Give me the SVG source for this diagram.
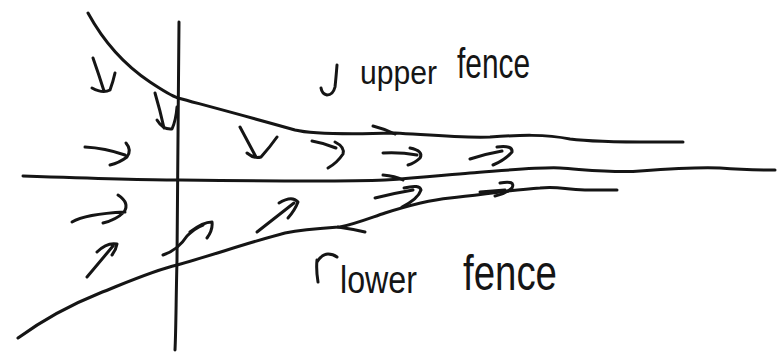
<svg xmlns="http://www.w3.org/2000/svg" width="779" height="361" viewBox="0 0 779 361">
<style>
.s{fill:none;stroke:#151515;stroke-width:3;stroke-linecap:round;stroke-linejoin:round}
.t{font-family:"Liberation Sans","DejaVu Sans",sans-serif;fill:#151515}
</style>
<rect width="779" height="361" fill="#ffffff"/>
<g id="axes">
<path class="s" d="M179,22 C178,100 178,200 177,260 C176,300 176,330 175,350"/>
<path class="s" d="M23,176 C80,178 140,180 178,180 C260,181 340,182 385,180 C420,178 445,175 470,173 C510,170 540,167 560,168 C590,170 615,173 640,171 C680,168 700,167 720,168 C745,170 760,170 775,170"/>
</g>
<g id="upper-fence">
<path class="s" d="M88,13 C100,35 120,62 150,82 C165,92 172,96 178,98 C215,108 260,120 295,130 C315,135 360,134 395,133 C430,135 460,138 490,137 C520,135 545,134 570,139 C600,143 650,142 683,142"/>
</g>
<g id="lower-fence">
<path class="s" d="M18,338 C40,322 70,305 100,293 C130,281 155,270 177,265 C210,256 250,242 285,233 C305,229 325,228 340,227 C355,224 370,218 385,213 C410,205 430,200 450,198 C480,195 510,190 540,188 C560,186 565,190 585,190 C600,190 610,190 617,190"/>
</g>
<g id="connectors">
<path class="s" d="M93,58 Q99,75 104,91 M92,88 Q103,94 110,90 Q113,82 115,73"/>
<path class="s" d="M155,93 Q160,110 164,128 M157,120 Q163,130 172,129 Q176,120 177,107"/>
<path class="s" d="M85,147 Q105,148 125,155 M126,143 Q132,150 127,157 Q119,163 110,165"/>
<path class="s" d="M240,127 Q248,142 256,157 M247,153 Q254,159 261,157 Q270,147 277,137"/>
<path class="s" d="M312,141 Q324,143 336,148 M335,142 Q345,147 343,154 Q337,163 328,168"/>
<path class="s" d="M383,153 Q400,152 417,155 M410,148 Q424,151 420,158 Q415,163 408,165"/>
<path class="s" d="M470,159 Q485,154 502,151 M497,147 Q513,145 512,152 Q505,160 493,165"/>
<path class="s" d="M72,222 Q85,214 125,212 M118,195 Q130,203 124,212 Q116,220 103,223"/>
<path class="s" d="M87,277 L113,246 M97,252 Q107,242 117,244 Q116,250 112,255"/>
<path class="s" d="M163,255 Q178,250 187,236 Q195,228 203,225 M190,232 Q203,222 212,222 Q213,230 207,238"/>
<path class="s" d="M257,232 L294,203 M279,203 Q292,195 298,202 Q295,210 288,218"/>
<path class="s" d="M375,198 Q395,193 413,190 M404,188 Q420,184 421,190 Q418,199 402,207"/>
<path class="s" d="M480,192 L505,190 M500,183 Q516,180 512,188 Q505,194 495,196"/>
<path class="s" d="M373,126 Q385,129 395,134 M383,175 Q395,176 403,180 M338,227 Q352,229 365,232"/>
</g>
<g id="label-upper">
<path class="s" d="M337,65 Q336,78 335,87 Q333,95 327,95 Q322,94 321,88"/>
<text class="t" x="360" y="84" font-size="34" textLength="77" lengthAdjust="spacingAndGlyphs">upper</text>
<text class="t" x="457" y="78" font-size="42" textLength="73" lengthAdjust="spacingAndGlyphs">fence</text>
</g>
<g id="label-lower">
<path class="s" d="M318,282 Q316,270 317,260 M317,262 Q322,254 328,254 Q333,254 337,257"/>
<text class="t" x="340" y="293" font-size="38" textLength="77" lengthAdjust="spacingAndGlyphs">lower</text>
<text class="t" x="463" y="290" font-size="50" textLength="94" lengthAdjust="spacingAndGlyphs">fence</text>
</g>
</svg>
